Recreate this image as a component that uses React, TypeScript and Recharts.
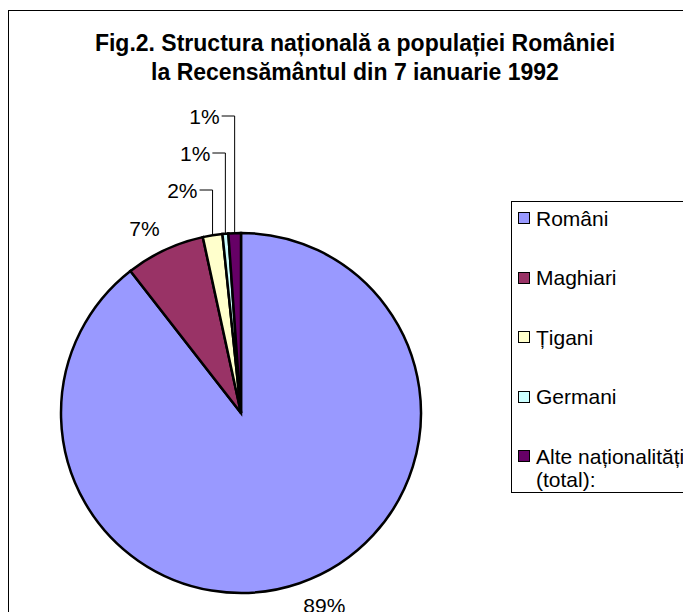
import { Cell, Legend, Pie, PieChart } from "recharts";

const categories = ["Români", "Maghiari", "Țigani", "Germani", "Alte naționalități (total):"];
const population = [20408542, 1624959, 401087, 119462, 255985];
const colors = ["#9999FF", "#993366", "#FFFFCC", "#CCFFFF", "#660066"];

const data = categories.map((name, i) => ({ name, value: population[i] }));
const totalValue = population.reduce((a, b) => a + b, 0);

const RAD = Math.PI / 180;
const FONT = "'Liberation Sans', Arial, sans-serif";

// small slices get stacked labels with elbow leader lines, like Excel does
function renderLabel(props: any) {
  const { cx, cy, midAngle, outerRadius, percent, index } = props;
  const txt = `${Math.round(percent * 100)}%`;
  const cosA = Math.cos(-midAngle * RAD);
  const sinA = Math.sin(-midAngle * RAD);
  if (percent < 0.03) {
    const smallIdx = data.filter((d, i) => i < index && d.value / totalValue < 0.03).length;
    const x0 = cx + outerRadius * cosA;
    const y0 = cy + outerRadius * sinA;
    const ey = cy - outerRadius - 43 - 37 * smallIdx;
    return (
      <g key={`lbl-${index}`}>
        <path d={`M${x0 - 13},${ey}H${x0}V${y0}`} fill="none" stroke="#000" strokeWidth={1} />
        <text x={x0 - 15} y={ey} textAnchor="end" dominantBaseline="central" fontSize={21} fontFamily={FONT} fill="#000">
          {txt}
        </text>
      </g>
    );
  }
  const px = cx + (outerRadius + 12) * cosA;
  const py = cy + (outerRadius + 12) * sinA;
  return (
    <text
      key={`lbl-${index}`}
      x={px}
      y={py + (sinA > 0 ? 11 : -11)}
      textAnchor={cosA > 0 ? "start" : "end"}
      dominantBaseline="central"
      fontSize={21}
      fontFamily={FONT}
      fill="#000"
    >
      {txt}
    </text>
  );
}

function LegendBox(props: any) {
  const items = [...(props.payload || [])].sort(
    (a: any, b: any) => categories.indexOf(a.value) - categories.indexOf(b.value)
  );
  return (
    <div
      style={{
        border: "1px solid #000",
        background: "#fff",
        width: 200,
        height: 292,
        boxSizing: "border-box",
        paddingTop: 4.5,
        paddingLeft: 6,
        fontFamily: FONT,
        fontSize: 21,
        lineHeight: "23px",
        color: "#000",
      }}
    >
      {items.map((p: any) => (
        <div key={p.value} style={{ display: "flex", alignItems: "flex-start", marginBottom: 36.5 }}>
          <span
            style={{
              width: 12,
              height: 12,
              marginTop: 5.5,
              marginRight: 6,
              background: colors[categories.indexOf(p.value)],
              border: "1px solid #000",
              boxSizing: "border-box",
              flex: "none",
            }}
          />
          <span style={{ width: 160 }}>{p.value}</span>
        </div>
      ))}
    </div>
  );
}

export default function App() {
  return (
    <div style={{ paddingTop: 2 }}>
      <div
        style={{
          position: "relative",
          width: 720,
          height: 640,
          border: "1px solid #000",
          background: "#fff",
        }}
      >
        <div
          style={{
            position: "absolute",
            left: 0,
            width: 692,
            top: 18,
            textAlign: "center",
            fontFamily: FONT,
            fontWeight: "bold",
            fontSize: 23,
            lineHeight: "28.5px",
            color: "#000",
            zIndex: 2,
          }}
        >
          Fig.2. Structura națională a populației României
          <br />
          la Recensământul din 7 ianuarie 1992
        </div>
        <PieChart width={720} height={640} margin={{ top: 0, right: 0, bottom: 0, left: 0 }}>
          <Pie
            data={data}
            dataKey="value"
            nameKey="name"
            cx={232}
            cy={402}
            outerRadius={180}
            startAngle={90}
            endAngle={-270}
            stroke="#000"
            strokeWidth={2.5}
            label={renderLabel}
            labelLine={false}
            isAnimationActive={false}
          >
            {data.map((d, i) => (
              <Cell key={d.name} fill={colors[i]} />
            ))}
          </Pie>
          <Legend
            layout="vertical"
            content={LegendBox}
            wrapperStyle={{ position: "absolute", left: 502, top: 190, width: 200 }}
          />
        </PieChart>
      </div>
    </div>
  );
}
